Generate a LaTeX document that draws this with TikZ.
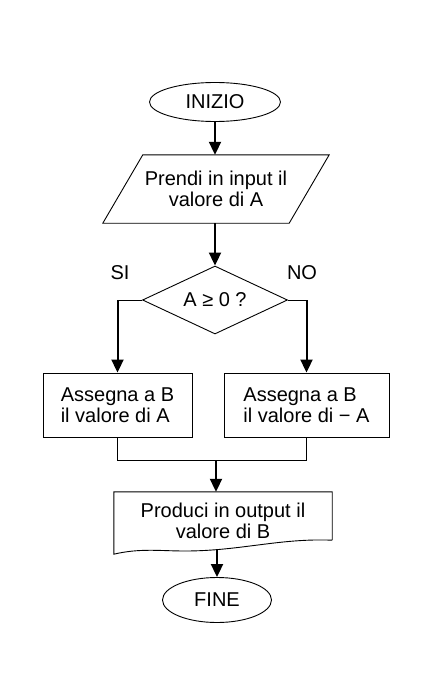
\documentclass[tikz,border=0pt]{standalone}
\usepackage{fontspec}
\setmainfont{Liberation Sans}
\usetikzlibrary{shapes.geometric,arrows.meta}
\begin{document}
\begin{tikzpicture}[x=1pt,y=-1pt,
  every node/.style={font=\fontsize{20}{21}\selectfont},
  shp/.style={draw,line width=0.9pt,inner sep=0pt},
  term/.style={shp,ellipse},
  proc/.style={shp,rectangle,align=left},
  arr/.style={line width=2pt,-{Triangle[length=13pt,width=12pt]}},
  thinln/.style={line width=0.9pt}]
\useasboundingbox (0,0) rectangle (437,690);
\fill[white] (0,0) rectangle (437,690);
% nodes
\node[term,minimum width=131pt,minimum height=39pt] (ini) at (215,102) {INIZIO};
\node[inner sep=0pt,minimum width=226pt,minimum height=68pt,align=center] (inp) at (216,189) {Prendi in input il\\ valore di A};
\draw[line width=0.9pt] ([xshift=40pt]inp.north west) -- (inp.north east) -- ([xshift=-40pt]inp.south east) -- (inp.south west) -- cycle;
\node[shp,diamond,aspect=2.2,minimum width=145pt,minimum height=68pt] (dec) at (215,300) {A ≥ 0 ?};
\node (si) at (120,273) {SI};
\node (no) at (302,273) {NO};
\node[proc,minimum width=149pt,minimum height=64pt] (bA) at (117.5,405) {Assegna a B\\il valore di A};
\node[proc,minimum width=165pt,minimum height=64pt] (bB) at (306.5,405) {Assegna a B\\il valore di − A};
\node[inner sep=0pt,minimum width=218pt,minimum height=58pt,align=center] (out) at (223,521) {Produci in output il\\ valore di B};
\draw[line width=0.9pt] (out.south east) ++(0,-10) coordinate (oe) -- (out.north east) -- (out.north west) -- ([yshift=-4pt]out.south west)
  .. controls (140,548) and (160,551) .. (185,551) .. controls (240,551) and (280,538) .. (oe);
\node[term,minimum width=109pt,minimum height=45pt] (fine) at (217,600) {FINE};
% connectors
\draw[arr] (ini.south) -- (ini.south |- inp.north);
\draw[arr] (dec.north |- inp.south) -- (dec.north);
\coordinate (sl) at (bA.north |- dec.west);
\coordinate (sr) at (bB.north |- dec.east);
\draw[thinln] (dec.west) -- (sl);
\draw[thinln] (dec.east) -- (sr);
\draw[arr] (sl) -- (bA.north);
\draw[arr] (sr) -- (bB.north);
\coordinate (m) at (216,460);
\draw[thinln] (bA.south) -- (bA.south |- m) -- (bB.south |- m) -- (bB.south);
\draw[arr] (m) -- (m |- out.north);
\draw[arr] (fine.north |- out.south) -- (fine.north);
\end{tikzpicture}
\end{document}
